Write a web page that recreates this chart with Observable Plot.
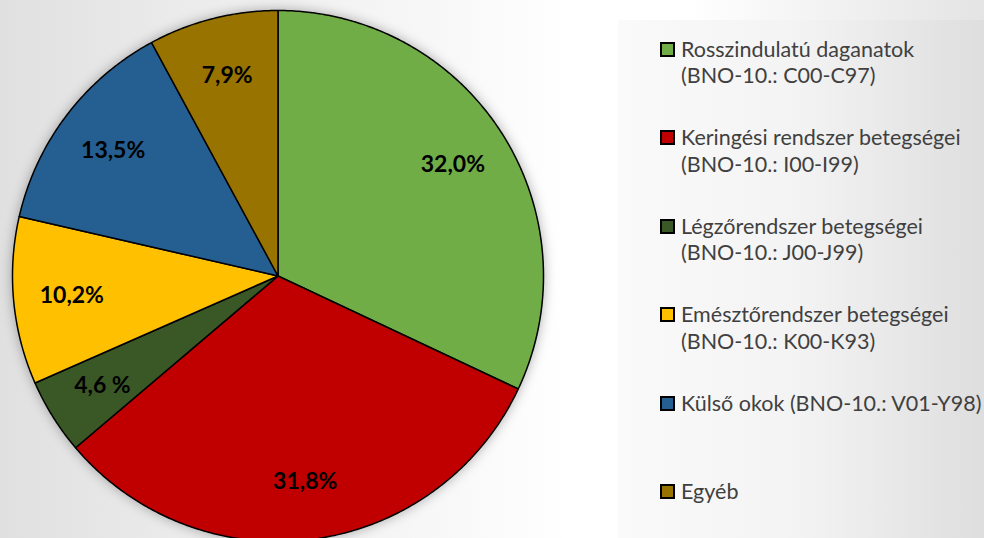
<!DOCTYPE html>
<html>
<head>
<meta charset="utf-8">
<script src="https://cdn.jsdelivr.net/npm/d3@7"></script>
<script src="https://cdn.jsdelivr.net/npm/@observablehq/plot@0.6"></script>
<style>
  html, body { margin: 0; padding: 0; }
  body {
    width: 984px; height: 538px; overflow: hidden; position: relative;
    background: linear-gradient(to right, #e0e0e0 0%, #ebebeb 18%, #f8f8f8 45%, #ffffff 58%, #ffffff 70%, #e4e4e4 100%);
    font-family: Lato, "Open Sans", sans-serif;
  }
  #chart { position: absolute; left: 0; top: 0; }
  #chart svg { background: transparent !important; overflow: visible; }
  #chart svg g[aria-label="line"] { filter: drop-shadow(0px 0px 6px rgba(0,0,0,0.3)); }
  #legend {
    position: absolute; left: 618px; top: 20px; width: 366px; height: 518px;
    background: linear-gradient(to right, #fafafa 0%, #f3f3f3 50%, #dedede 100%);
  }
  .item { position: absolute; left: 0; font-size: 21.5px; line-height: 26.5px; color: #404040; white-space: nowrap; }
  .sw { position: absolute; left: 42px; top: 6px; width: 15px; height: 15px; box-sizing: border-box; border: 2px solid #000; }
  .txt { position: absolute; left: 63px; top: 0; }
</style>
</head>
<body>
<div id="chart"></div>
<div id="legend"></div>
<script>
// ---- data ----
const categories = [
  "Rosszindulatú daganatok",
  "Keringési rendszer betegségei",
  "Légzőrendszer betegségei",
  "Emésztőrendszer betegségei",
  "Külső okok",
  "Egyéb"
];
const legendTitles = [
  "Rosszindulatú daganatok",
  "Keringési rendszer betegségei",
  "Légzőrendszer betegségei",
  "Emésztőrendszer betegségei",
  "Külső okok (BNO-10.: V01-Y98)",
  "Egyéb"
];
const legendCodes = [
  "(BNO-10.: C00-C97)",
  "(BNO-10.: I00-I99)",
  "(BNO-10.: J00-J99)",
  "(BNO-10.: K00-K93)",
  "",
  ""
];
const shares = [32.0, 31.8, 4.6, 10.2, 13.5, 7.9];
const labels = ["32,0%", "31,8%", "4,6 %", "10,2%", "13,5%", "7,9%"];
const colors = ["#70ad47", "#c00000", "#3a5726", "#ffc000", "#255e91", "#997300"];

// ---- geometry from data (angles clockwise from north) ----
const total = d3.sum(shares);
const slices = [];
let acc = 0;
shares.forEach((v, i) => {
  const a0 = acc / total * 2 * Math.PI;
  acc += v;
  const a1 = acc / total * 2 * Math.PI;
  slices.push({i, a0, a1, mid: (a0 + a1) / 2});
});
const outline = [];
for (const s of slices) {
  outline.push({cat: categories[s.i], color: colors[s.i], x: 0, y: 0});
  const n = Math.max(2, Math.ceil((s.a1 - s.a0) / (Math.PI / 360)));
  for (let k = 0; k <= n; k++) {
    const a = s.a0 + (s.a1 - s.a0) * k / n;
    outline.push({cat: categories[s.i], color: colors[s.i], x: Math.sin(a), y: Math.cos(a)});
  }
}
const labelR = 0.78;
const labelData = slices.map(s => ({
  label: labels[s.i],
  x: labelR * Math.sin(s.mid),
  y: labelR * Math.cos(s.mid)
}));

const plot = Plot.plot({
  width: 984,
  height: 538,
  x: {domain: [-1, 1], range: [12, 543], axis: null},
  y: {domain: [-1, 1], range: [541, 10], axis: null},
  style: {background: "transparent", overflow: "visible"},
  marks: [
    Plot.line(outline, {
      x: "x", y: "y", z: "cat", fill: "color",
      stroke: "#000", strokeWidth: 1.5, curve: "linear-closed", strokeLinejoin: "round"
    }),
    Plot.text(labelData, {
      x: "x", y: "y", text: "label",
      fontSize: 23, fontWeight: "bold", fontFamily: "Lato, 'Open Sans', sans-serif",
      fill: "#000", textAnchor: "middle", lineAnchor: "middle"
    })
  ]
});
document.getElementById("chart").appendChild(plot);

// ---- legend ----
const legend = document.getElementById("legend");
legendTitles.forEach((t, i) => {
  const item = document.createElement("div");
  item.className = "item";
  item.style.top = (15.7 + i * 88.5) + "px";
  const sw = document.createElement("div");
  sw.className = "sw";
  sw.style.background = colors[i];
  const txt = document.createElement("div");
  txt.className = "txt";
  txt.innerHTML = t + (legendCodes[i] ? "<br>" + legendCodes[i] : "");
  item.appendChild(sw);
  item.appendChild(txt);
  legend.appendChild(item);
});
</script>
</body>
</html>
